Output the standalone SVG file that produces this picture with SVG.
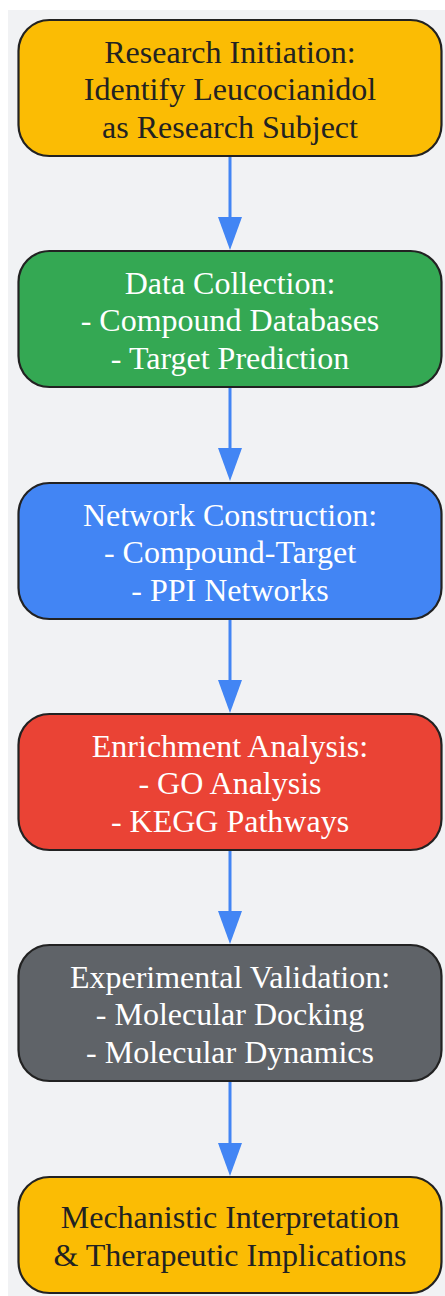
<svg xmlns="http://www.w3.org/2000/svg" width="445" height="1296" viewBox="0 0 445 1296">
  <defs>
    <marker id="arrow" markerWidth="33" markerHeight="24" refX="0" refY="12" orient="auto" markerUnits="userSpaceOnUse" viewBox="0 0 33 24">
      <path d="M0,0 L33,12 L0,24 Z" fill="#4285F4"/>
    </marker>
  </defs>
  <style>
    .node { stroke: #222222; stroke-width: 2.2; }
    .t { font-family: "Liberation Serif", "Times New Roman", serif; font-size: 32px; text-anchor: middle; }
    .dark { fill: #222222; }
    .light { fill: #ffffff; }
    .edge { stroke: #4285F4; stroke-width: 3; fill: none; }
  </style>
  <rect x="8" y="10" width="437" height="1286" fill="#F1F2F4"/>
  <g id="connectors">
    <path class="edge" d="M230,157 L230,217" marker-end="url(#arrow)"/>
    <path class="edge" d="M230,388 L230,448" marker-end="url(#arrow)"/>
    <path class="edge" d="M230,620 L230,680" marker-end="url(#arrow)"/>
    <path class="edge" d="M230,851 L230,911" marker-end="url(#arrow)"/>
    <path class="edge" d="M230,1082 L230,1143" marker-end="url(#arrow)"/>
  </g>
  <g id="node-initiation">
    <rect class="node" x="18.5" y="20" width="423" height="136" rx="31" fill="#FBBC04"/>
    <text class="t dark" x="230" y="62.5">Research Initiation:</text>
    <text class="t dark" x="230" y="100">Identify Leucocianidol</text>
    <text class="t dark" x="230" y="137.5">as Research Subject</text>
  </g>
  <g id="node-collection">
    <rect class="node" x="18.5" y="251" width="423" height="136" rx="31" fill="#34A853"/>
    <text class="t light" x="230" y="293.5">Data Collection:</text>
    <text class="t light" x="230" y="331">- Compound Databases</text>
    <text class="t light" x="230" y="368.5">- Target Prediction</text>
  </g>
  <g id="node-network">
    <rect class="node" x="18.5" y="483" width="423" height="136" rx="31" fill="#4285F4"/>
    <text class="t light" x="230" y="525.5">Network Construction:</text>
    <text class="t light" x="230" y="563">- Compound-Target</text>
    <text class="t light" x="230" y="600.5">- PPI Networks</text>
  </g>
  <g id="node-enrichment">
    <rect class="node" x="18.5" y="714" width="423" height="136" rx="31" fill="#EA4335"/>
    <text class="t light" x="230" y="756.5">Enrichment Analysis:</text>
    <text class="t light" x="230" y="794">- GO Analysis</text>
    <text class="t light" x="230" y="831.5">- KEGG Pathways</text>
  </g>
  <g id="node-validation">
    <rect class="node" x="18.5" y="945" width="423" height="136" rx="31" fill="#5F6368"/>
    <text class="t light" x="230" y="987.5">Experimental Validation:</text>
    <text class="t light" x="230" y="1025">- Molecular Docking</text>
    <text class="t light" x="230" y="1062.5">- Molecular Dynamics</text>
  </g>
  <g id="node-interpretation">
    <rect class="node" x="18.5" y="1177" width="423" height="116" rx="31" fill="#FBBC04"/>
    <text class="t dark" x="230" y="1228">Mechanistic Interpretation</text>
    <text class="t dark" x="230" y="1265.5">&amp; Therapeutic Implications</text>
  </g>
</svg>
